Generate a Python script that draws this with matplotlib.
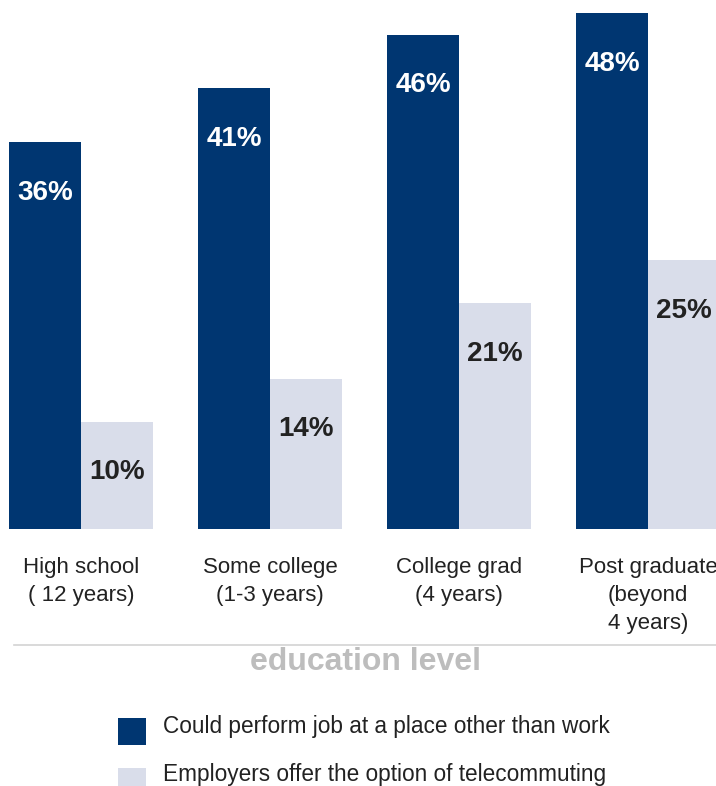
import matplotlib
matplotlib.use("Agg")
import matplotlib.pyplot as plt
import numpy as np

categories = ["High school\n( 12 years)", "Some college\n(1-3 years)", "College grad\n(4 years)", "Post graduate\n(beyond\n4 years)"]
could_perform = [36, 41, 46, 48]
employers_offer = [10, 14, 21, 25]
series_names = ["Could perform job at a place other than work", "Employers offer the option of telecommuting"]
axis_title = "education level"

DARK = "#003671"
LIGHT = "#D9DDEA"
plt.rcParams['font.family'] = ['Liberation Sans', 'DejaVu Sans']

W, H = 716, 786
fig = plt.figure(figsize=(W / 100, H / 100), dpi=100)
# axes spans x 0..716 px, y from top 0 to baseline 529 px
ax = fig.add_axes([0, (H - 529) / H, 1, 529 / H])
x = np.arange(len(categories))
bw = 72 / 189
ax.bar(x - bw / 2, could_perform, width=bw, color=DARK, linewidth=0)
ax.bar(x + bw / 2, employers_offer, width=bw, color=LIGHT, linewidth=0)
ax.set_xlim(-81 / 189, (716 - 81) / 189)
ax.set_ylim(0, 529 / 10.75)
ax.axis('off')

for i in range(len(categories)):
    ax.text(x[i] - bw / 2, could_perform[i] - 4.7, f"{could_perform[i]}%", ha='center', va='center',
            color='white', fontsize=20, fontweight='bold')
    ax.text(x[i] + bw / 2, employers_offer[i] - 4.7, f"{employers_offer[i]}%", ha='center', va='center',
            color='#222222', fontsize=20, fontweight='bold')
    px = 81 + 189 * i
    fig.text(px / W, 1 - 557 / H, categories[i], ha='center', va='top', multialignment='center',
             fontsize=16, color='#222222', linespacing=1.45)

# separator line
fig.add_artist(plt.Line2D([14 / W, 1], [1 - 645 / H, 1 - 645 / H], color='#D3D3D3', linewidth=1.2))
fig.text(366 / W, 1 - 662 / H, axis_title, ha='center', va='center', fontsize=23,
         fontweight='bold', color='#BDBDBD')

# legend
fig.patches.append(plt.Rectangle((118 / W, 1 - 745 / H), 28 / W, 27 / H, transform=fig.transFigure,
                                 color=DARK, linewidth=0))
fig.patches.append(plt.Rectangle((118 / W, 1 - 786 / H), 28 / W, 18 / H, transform=fig.transFigure,
                                 color=LIGHT, linewidth=0))
fig.text(163 / W, 1 - 727 / H, series_names[0], ha='left', va='center', fontsize=16.3, color='#222222')
fig.text(163 / W, 1 - 774 / H, series_names[1], ha='left', va='center', fontsize=16.3, color='#222222')

fig.savefig("out.png", dpi=100)
